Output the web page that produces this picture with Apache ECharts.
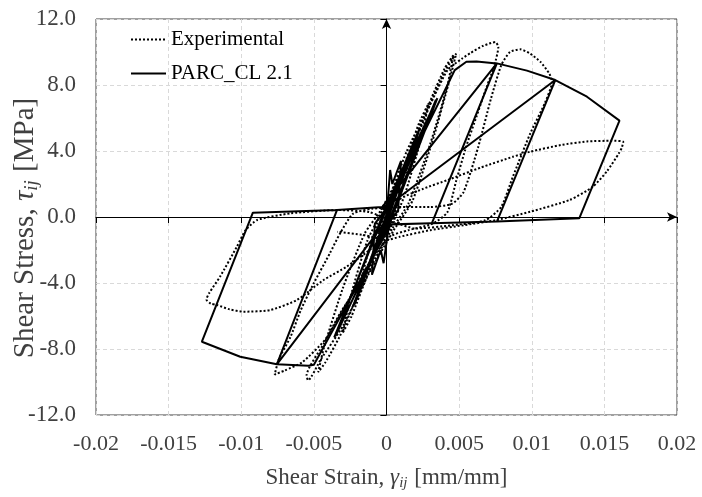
<!DOCTYPE html>
<html><head><meta charset="utf-8">
<script src="https://cdn.jsdelivr.net/npm/echarts@6/dist/echarts.min.js"></script>
<style>html,body{margin:0;padding:0;background:#fff}#c{width:702px;height:497px}</style>
</head><body><div id="c"></div>
<script>
// ---- Data (strain [mm/mm], stress [MPa]) ----
const seriesNames = ['Experimental', 'PARC_CL 2.1'];
const xTicks = [-0.02, -0.015, -0.01, -0.005, 0, 0.005, 0.01, 0.015, 0.02];
const yTicks = [-12, -8, -4, 0, 4, 8, 12];

const parcStrain = [0, 0.00025, 0.0004, 0.0010, 0.0008, 0.0002, -0.0002, -0.0004, -0.0010, -0.0008, -0.0001,
  0.0022, -0.0001, -0.0022, 0.0001, 0.0023, 0.0000, -0.0023, 0.0002,
  0.0034, 0.0001, -0.0035, -0.0001, 0.0035, 0.0002, -0.0036, 0.0000,
  0.0047, 0.0055, 0.0062, 0.0076, 0.00312, 0.0003, -0.0050, -0.00537, -0.00755, -0.00341, -0.0003,
  0.0076, 0.00312, -0.0002, -0.00755, -0.00341, -0.0003,
  0.0076, 0.00967, 0.01162, 0.0076, -0.0002, -0.00755, -0.01007, -0.01271, -0.0092, -0.00341, 0.0,
  0.01162, 0.0138, 0.01604, 0.01327, 0.0076, 0.00312, 0.0];
const parcStress = [0, 2.85, 2.0, 3.4, 0.4, -0.3, -2.8, -2.0, -3.5, -0.4, 0.4,
  5.2, -0.35, -5.3, 0.4, 5.4, -0.35, -5.4, 0.45,
  7.1, -0.4, -7.2, 0.5, 7.2, -0.4, -7.3, 0.5,
  8.9, 9.41, 9.42, 9.31, -0.38, -0.45, -8.95, -9.01, -8.93, 0.42, 0.6,
  9.31, -0.38, -0.45, -8.93, 0.42, 0.6,
  9.31, 8.87, 8.30, -0.28, -0.45, -8.93, -8.47, -7.56, 0.26, 0.42, 0.62,
  8.30, 7.29, 5.84, -0.08, -0.28, -0.38, -0.45];

const expStrain = [0, 0.0008, 0.0016, 0.0019, 0.0013, 0.0004, -0.0006, -0.0016, -0.0020, -0.0014, -0.0004,
  0.0010, 0.0022, 0.0029, 0.0024, 0.0012, 0.0003, -0.0012, -0.0024, -0.0030, -0.0025, -0.0013, -0.0002,
  0.0015, 0.0030, 0.0040, 0.0046, 0.0042, 0.0030, 0.0015, 0.0004, -0.0015, -0.0032, -0.0042, -0.0047, -0.0043, -0.0030, -0.0015, -0.0004,
  0.0014, 0.0030, 0.0040, 0.0048, 0.0044, 0.0033, 0.0018, 0.0005, -0.0012, -0.0030, -0.0045, -0.0054, -0.0055, -0.0043, -0.0032, -0.0020, -0.0011, -0.0006,
  0.0000, 0.0014, 0.0030, 0.0042, 0.0052, 0.0058, 0.0066, 0.0072, 0.0075, 0.0077, 0.0074, 0.0069, 0.0062, 0.0055, 0.0048, 0.0042, 0.0032, 0.0015, 0.0002,
  -0.0012, -0.0026, -0.0042, -0.0058, -0.0070, -0.0077, -0.0074, -0.0066, -0.0059, -0.0050, -0.0039, -0.0032, -0.0023, -0.0010,
  0.0010, 0.0030, 0.0045, 0.0053, 0.0063, 0.0072, 0.0079, 0.0085, 0.0092, 0.0099, 0.0106, 0.0112, 0.0114, 0.0109, 0.0099, 0.0087, 0.0079, 0.0068, 0.0045, 0.0020, 0.0005,
  -0.0012, -0.0034, -0.0066, -0.0089, -0.0097, -0.0103, -0.01145, -0.0122, -0.0124, -0.0121, -0.01168, -0.0108, -0.00985, -0.0080, -0.00617, -0.00434, -0.00273, -0.0009,
  0.0001, 0.0008, 0.0025, 0.0042, 0.0065, 0.0087, 0.0099, 0.0120, 0.0138, 0.0155, 0.0163, 0.0162, 0.0160, 0.0152, 0.0142, 0.0126, 0.0099, 0.0076, 0.0053, 0.0030, 0.0009, 0.0000, -0.0015, -0.0034];
const expStress = [0, 1.8, 3.9, 4.6, 2.4, -0.2, -1.8, -4.0, -4.9, -2.6, 0.2,
  2.6, 5.6, 6.9, 4.8, 1.2, -0.6, -3.3, -6.0, -7.0, -4.9, -1.4, 0.5,
  3.6, 7.0, 9.0, 9.8, 8.0, 4.4, 0.8, -0.7, -3.8, -7.2, -8.8, -9.4, -7.9, -4.3, -1.0, 0.4,
  3.4, 6.8, 8.8, 9.9, 8.5, 5.0, 1.0, -0.8, -3.4, -6.6, -8.6, -9.9, -9.6, -7.65, -5.84, -4.2, -2.6, -1.2,
  0.6, 4.0, 6.8, 8.9, 9.6, 9.95, 10.35, 10.55, 10.6, 10.3, 9.1, 7.9, 6.1, 4.3, 2.2, 0.3, -0.4, -0.8, -1.2,
  -2.8, -5.0, -7.4, -8.8, -9.3, -9.55, -8.6, -7.25, -5.64, -4.0, -2.2, -1.0, 0.2, 0.5,
  0.6, 0.6, 0.8, 1.5, 4.2, 7.2, 9.2, 10.0, 10.16, 9.9, 9.4, 8.7, 8.2, 6.9, 5.07, 2.44, 0.62, -0.2, -0.5, -0.7, -0.3,
  0.3, 0.42, 0.22, -0.18, -0.8, -1.8, -3.6, -4.6, -5.0, -5.25, -5.33, -5.6, -5.74, -5.64, -5.03, -3.82, -3.0, -1.8,
  -0.6, 1.0, 1.7, 2.24, 3.0, 3.65, 3.96, 4.36, 4.58, 4.62, 4.56, 4.2, 3.86, 2.8, 1.83, 1.03, 0.32, -0.18, -0.5, -0.8, -1.2, -1.4, -1.1, -0.9];

const zip = (a, b) => a.map((v, i) => [v, b[i]]);

const FONT = 'Liberation Serif';
const TXT = '#404040';
const chart = echarts.init(document.getElementById('c'), null, {renderer: 'canvas'});
const frameAxisCommon = {
  type: 'value', axisLine: {show: false}, axisTick: {show: false},
  splitLine: {show: true, lineStyle: {color: '#d9d9d9', type: [4, 3], width: 1}}
};
chart.setOption({
  animation: false,
  backgroundColor: '#fff',
  grid: {left: 96, right: 25, top: 19, bottom: 82, show: true, borderColor: '#404040', borderWidth: 1,
    containLabel: false, outerBoundsMode: 'none'},
  legend: {
    left: 125, top: 24, orient: 'vertical', itemGap: 13, itemWidth: 35, itemHeight: 14,
    data: seriesNames,
    itemStyle: {opacity: 0},
    textStyle: {fontFamily: FONT, fontSize: 21, color: '#000'}
  },
  xAxis: [
    Object.assign({}, frameAxisCommon, {
      min: xTicks[0], max: xTicks[xTicks.length - 1], interval: 0.005, position: 'bottom',
      axisLine: {show: false, onZero: false},
      axisLabel: {fontFamily: FONT, fontSize: 22, color: TXT, margin: 18,
        formatter: v => String(+v.toFixed(3))},
      name: '{n|Shear Strain, }{g|γ}{s|ij}{n| [mm/mm]}', nameLocation: 'middle', nameGap: 50, nameMoveOverlap: false,
      nameTextStyle: {fontFamily: FONT, fontSize: 23, color: TXT, rich: {
        n: {fontFamily: FONT, fontSize: 23, color: TXT},
        g: {fontFamily: FONT, fontSize: 23, fontStyle: 'italic', color: TXT},
        s: {fontFamily: FONT, fontSize: 15, fontStyle: 'italic', color: TXT, padding: [11, 1, 0, 0]}
      }}
    }),
    {
      type: 'value', min: xTicks[0], max: xTicks[xTicks.length - 1], interval: 0.005, position: 'bottom',
      axisLine: {show: true, onZero: true, symbol: ['none', 'arrow'], symbolSize: [7, 10], lineStyle: {color: '#000', width: 1}},
      axisTick: {show: true, length: 6, lineStyle: {color: '#000'}},
      axisLabel: {show: false}, splitLine: {show: false}
    }
  ],
  yAxis: [
    Object.assign({}, frameAxisCommon, {
      min: yTicks[0], max: yTicks[yTicks.length - 1], interval: 4, position: 'left',
      axisLine: {show: false, onZero: false},
      axisLabel: {fontFamily: FONT, fontSize: 23, color: TXT, margin: 20,
        formatter: v => v.toFixed(1)},
      name: '{n|Shear Stress, }{g|τ}{s|ij}{n| [MPa]}', nameLocation: 'middle', nameGap: 55, nameRotate: 90, nameMoveOverlap: false,
      nameTextStyle: {fontFamily: FONT, fontSize: 29, color: TXT, padding: [0, 22, 0, 0], rich: {
        n: {fontFamily: FONT, fontSize: 29, color: TXT},
        g: {fontFamily: FONT, fontSize: 29, fontStyle: 'italic', color: TXT},
        s: {fontFamily: FONT, fontSize: 19, fontStyle: 'italic', color: TXT, padding: [13, 1, 0, 0]}
      }}
    }),
    {
      type: 'value', min: yTicks[0], max: yTicks[yTicks.length - 1], interval: 4, position: 'left',
      axisLine: {show: true, onZero: true, symbol: ['none', 'arrow'], symbolSize: [7, 10], lineStyle: {color: '#000', width: 1}},
      axisTick: {show: true, length: 6, lineStyle: {color: '#000'}},
      axisLabel: {show: false}, splitLine: {show: false}
    }
  ],
  series: [
    {
      name: seriesNames[0], type: 'line', data: zip(expStrain, expStress),
      showSymbol: false, symbol: 'none', smooth: 0.2,
      lineStyle: {color: '#000', width: 2, type: [2, 2]}, itemStyle: {color: '#000'}
    },
    {
      name: seriesNames[1], type: 'line', data: zip(parcStrain, parcStress),
      showSymbol: false, symbol: 'none',
      lineStyle: {color: '#000', width: 2, type: 'solid'}, itemStyle: {color: '#000'}
    }
  ]
});
</script>
</body></html>
